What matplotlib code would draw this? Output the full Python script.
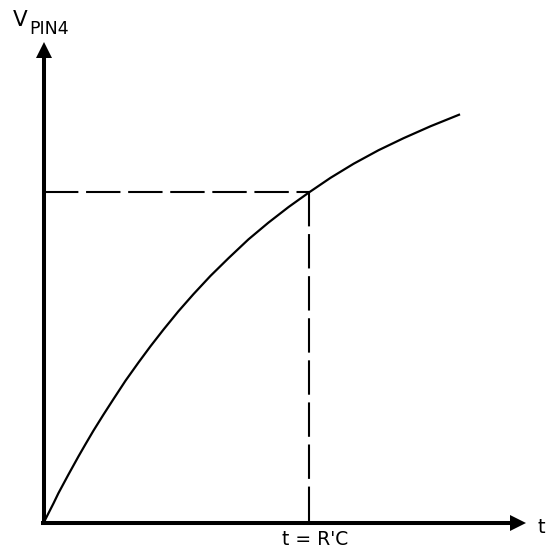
import matplotlib
matplotlib.use("Agg")
import matplotlib.pyplot as plt

# charging curve: t in units of R'C, V relative
t_curve = [0, 0.019, 0.038, 0.056, 0.075, 0.094, 0.132, 0.158, 0.188,
           0.226, 0.264, 0.309, 0.358, 0.403, 0.452, 0.508, 0.565, 0.629,
           0.697, 0.772, 0.847, 0.923, 1.0, 1.081, 1.168, 1.262, 1.356,
           1.458, 1.565]
v_curve = [0, 0.019, 0.038, 0.057, 0.075, 0.093, 0.128, 0.151, 0.177,
           0.208, 0.238, 0.273, 0.308, 0.339, 0.371, 0.406, 0.439, 0.474,
           0.508, 0.544, 0.576, 0.606, 0.634, 0.662, 0.689, 0.715, 0.738,
           0.761, 0.783]

# marker at t = R'C
t_mark = 1.0
v_mark = 0.634

W, H = 553, 552
fig = plt.figure(figsize=(W / 100, H / 100), dpi=100)
ax = fig.add_axes([0, 0, 1, 1])

# pixel layout: origin at (43.5, 523), t=1 at x=309, v scale 521.4 px
x0, y0, sx, sy = 43.5, 523.0, 265.5, 521.4
ax.set_xlim(-x0 / sx, (W - x0) / sx)
ax.set_ylim(-(H - y0) / sy, y0 / sy)
ax.axis("off")

# axes with arrow heads
ax.plot([0, 0], [-2 / sy, (y0 - 57) / sy], color="black", lw=2.9,
        solid_capstyle="butt")
ax.plot([-2.5 / sx, (511 - x0) / sx], [0, 0], color="black", lw=2.9,
        solid_capstyle="butt")
ax.plot(0, (y0 - 49.5) / sy, marker="^", ms=12, color="black", mew=0)
ax.plot((518 - x0) / sx, 0, marker=">", ms=12, color="black", mew=0)

# dashed guides
dash = (0, (16.5, 3.7))
ax.plot([0, t_mark], [v_mark, v_mark], color="black", lw=1.5, linestyle=dash)
ax.plot([t_mark, t_mark], [v_mark, 0], color="black", lw=1.5, linestyle=dash)

# curve
ax.plot(t_curve, v_curve, color="black", lw=1.6, solid_joinstyle="round")

# labels
fig.text(13 / W, 1 - 26.5 / H, "V", fontsize=15.5, ha="left", va="baseline")
fig.text(29 / W, 1 - 33.5 / H, "PIN4", fontsize=12.5, ha="left",
         va="baseline")
fig.text(315.5 / W, 1 - 545 / H, "t = R'C", fontsize=13.5, ha="center",
         va="baseline")
fig.text(541.5 / W, 1 - 533 / H, "t", fontsize=14, ha="center",
         va="baseline")

fig.savefig("out.png", dpi=100)
